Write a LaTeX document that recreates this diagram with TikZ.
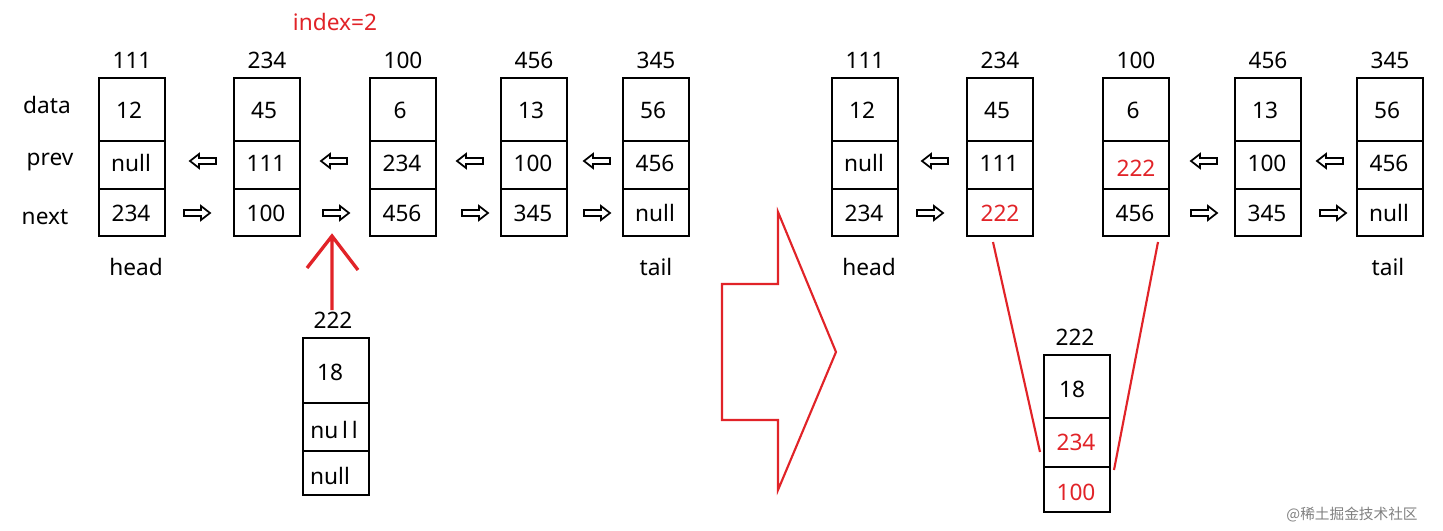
\documentclass[tikz,border=0pt]{standalone}
\usepackage{fontspec}
\setmainfont{Noto Sans}
\newfontfamily\cjk{Noto Sans CJK SC}
\definecolor{myred}{RGB}{225,35,40}
\begin{document}
\begin{tikzpicture}[x=0.75pt,y=-0.75pt,
  every node/.style={font=\fontsize{17}{20}\selectfont,inner sep=0pt},
  box/.style={draw,line width=1.4pt},
  red/.style={text=myred},
  pics/larr/.style={code={\draw[line width=1.3pt] (-13,0)--(-4,-7)--(-4,-3)--(13,-3)--(13,3)--(-4,3)--(-4,7)--cycle;}},
  pics/rarr/.style={code={\draw[line width=1.3pt] (13,0)--(4,-7)--(4,-3)--(-13,-3)--(-13,3)--(4,3)--(4,7)--cycle;}}]
\useasboundingbox (0,0) rectangle (1443,531);
% box macro via loops
\foreach \n/\x/\lab/\a/\b/\c in {b1/99/111/12/null/234, b2/234/234/45/111/100, b3/370/100/6/234/456, b4/501/456/13/100/345, b5/623/345/56/456/null,
  r1/832/111/12/null/234, r2/967/234/45/111/{}, r3/1103/100/6/{}/456, r4/1235/456/13/100/345, r5/1357/345/56/456/null}{
  \draw[box] (\x,78) rectangle (\x+66,236);
  \draw[box] (\x,141)--(\x+66,141) (\x,189)--(\x+66,189);
  \node (\n) at (\x+33,60) {\lab};
  \node (\n a) at (\x+30,110) {\a};
  \node (\n b) at (\x+32,163) {\b};
  \node (\n c) at (\x+32,213) {\c};
}
\node[red] (r2c) at (1000,213) {222};
\node[red] (r3b) at (1136,168) {222};
\node (ld) at (47,105) {data};
\node (lp) at (50,162) {prev};
\node (ln) at (45,217) {next};
\node (h1) at (136,267) {head};
\node (t1) at (656,267) {tail};
\node (h2) at (869,267) {head};
\node (t2) at (1388,267) {tail};
\node[red] (idx) at (335,22) {index=2};
\foreach \x in {203,334,470,597,935,1204,1330} \pic at (\x,161) {larr};
\foreach \x in {197,336,475,597,930,1204,1333} \pic at (\x,213) {rarr};
% red insert arrow
\coordinate (ia) at (332,236);
\coordinate (ib) at (332,310);
\draw[myred,line width=2.5pt] (ib)--(ia) (307,268)--(ia)--(358,270);
% new node left
\draw[box] (303,338) rectangle (369,495);
\draw[box] (303,403)--(369,403) (303,451)--(369,451);
\node (n1) at (333,320) {222};
\node (n1a) at (330,372) {18};
\node (n1b) at (334,430) {nu\,l\,l};
\node (n1c) at (330,476) {null};
% big arrow
\draw[myred,line width=1.6pt] (722,284)--(778,284)--(778,212)--(836,352)--(778,490)--(778,420)--(722,420)--cycle;
% new node right
\draw[box] (1044,355) rectangle (1110,512);
\draw[box] (1044,418)--(1110,418) (1044,467)--(1110,467);
\node (n2) at (1075,337) {222};
\node (n2a) at (1072,389) {18};
\node[red] (n2b) at (1076,442) {234};
\node[red] (n2c) at (1076,492) {100};
\coordinate (p1) at (993,242); \coordinate (q1) at (1040,452);
\coordinate (p2) at (1158,242); \coordinate (q2) at (1114,470);
\draw[myred,line width=1.6pt] (p1)--(q1) (p2)--(q2);
\node[text=gray,font=\cjk\fontsize{11}{13}\selectfont] (wm) at (1352,515) {@稀土掘金技术社区};
\end{tikzpicture}
\end{document}
